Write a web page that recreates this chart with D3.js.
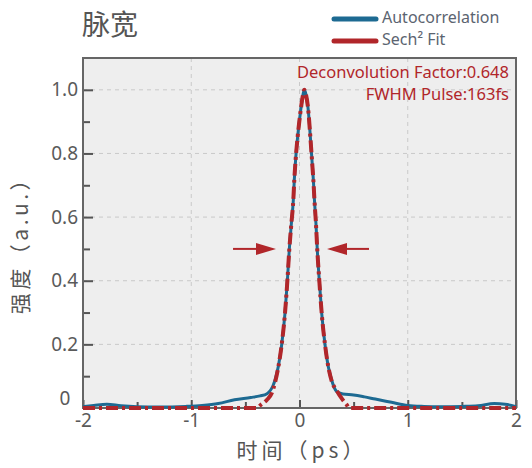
<!DOCTYPE html>
<html><head><meta charset="utf-8">
<script src="https://cdn.jsdelivr.net/npm/d3@7"></script>
<style>
html,body{margin:0;padding:0;background:#fff;}
svg text{font-family:"Noto Sans","Noto Sans CJK SC",sans-serif;}
</style></head>
<body><svg id="c" width="532" height="468"></svg>
<script>
// ---- data ----
const autoT = [-2.0,-1.9,-1.78,-1.65,-1.5,-1.3,-1.05,-0.9,-0.75,-0.6,-0.45,-0.365,-0.3,-0.27,-0.245,-0.226,-0.196,-0.165,-0.134,-0.112,-0.094,-0.075,-0.057,-0.048,-0.036,-0.017,0.011,0.03,0.044,0.06,0.081,0.1,0.115,0.128,0.138,0.152,0.164,0.183,0.205,0.236,0.266,0.297,0.32,0.343,0.4,0.5,0.6,0.7,0.85,1.0,1.15,1.3,1.5,1.65,1.8,1.9,2.0];
const autoV = [0.004,0.008,0.012,0.007,0.004,0.003,0.005,0.008,0.014,0.026,0.033,0.038,0.045,0.055,0.07,0.088,0.13,0.198,0.298,0.4,0.499,0.58,0.654,0.717,0.78,0.853,0.936,0.98,1.0,0.985,0.936,0.853,0.78,0.717,0.654,0.58,0.499,0.4,0.298,0.198,0.13,0.088,0.065,0.052,0.044,0.041,0.035,0.028,0.018,0.008,0.005,0.004,0.005,0.007,0.014,0.012,0.004];
const fitT = [-2.0,-1.0,-0.40,-0.35,-0.30,-0.257,-0.226,-0.196,-0.165,-0.134,-0.112,-0.094,-0.075,-0.057,-0.048,-0.036,-0.017,0.011,0.03,0.044,0.06,0.081,0.1,0.115,0.128,0.138,0.152,0.164,0.183,0.205,0.236,0.266,0.297,0.343,0.39,0.436,0.46,1.0,2.0];
const fitV = [0,0,0,0.012,0.026,0.046,0.08,0.128,0.198,0.298,0.4,0.499,0.58,0.654,0.717,0.78,0.853,0.936,0.98,1.0,0.985,0.936,0.853,0.78,0.717,0.654,0.58,0.499,0.4,0.298,0.198,0.13,0.085,0.055,0.03,0.01,0,0,0];
const xTicks = [-2,-1,0,1,2];
const xTickLabels = ["-2","-1","0","1","2"];
const xMinor = [-1.5,-0.5,0.5,1.5];
const yTicks = [0.2,0.4,0.6,0.8,1.0];
const yTickLabels = ["0.2","0.4","0.6","0.8","1.0"];
const yMinor = [0.1,0.3,0.5,0.7,0.9];
const seriesNames = ["Autocorrelation","Sech² Fit"];
const annotations = ["Deconvolution Factor:0.648","FWHM Pulse:163fs"];
const arrowLeft = [-0.614,-0.217];   // tail, tip (ps)
const arrowRight = [0.642,0.254];
const arrowLevel = 0.5;

// ---- layout ----
const svg = d3.select("#c");
const L=83, T=58, R=516, B=408;
const x = d3.scaleLinear().domain([-2,2]).range([L,R]);
const y = d3.scaleLinear().domain([0,1.1]).range([B,T]);
const blue="#1d6a92", red="#b1262a", grey="#5a5a5a";

svg.append("rect").attr("x",L).attr("y",T).attr("width",R-L).attr("height",B-T).attr("fill","#eeeeee");

// grid
const g = svg.append("g");
g.selectAll(".hg").data(yTicks).join("line")
 .attr("x1",L).attr("x2",R).attr("y1",d=>y(d)).attr("y2",d=>y(d))
 .attr("stroke","#c9c9c9").attr("stroke-width",1).attr("stroke-dasharray","4,4");
g.selectAll(".vg").data([-1,0,1]).join("line")
 .attr("y1",T).attr("y2",B).attr("x1",d=>x(d)).attr("x2",d=>x(d))
 .attr("stroke","#c9c9c9").attr("stroke-width",1).attr("stroke-dasharray","4,4");

// axes via d3 axis (ticks inward)
const yAxis = d3.axisLeft(y).tickValues(yTicks).tickFormat((d,i)=>yTickLabels[i]).tickSize(-10).tickPadding(5);
const ya = svg.append("g").attr("transform",`translate(${L},0)`).call(yAxis);
const yAxisMinor = d3.axisLeft(y).tickValues(yMinor).tickFormat("").tickSize(-7);
const ya2 = svg.append("g").attr("transform",`translate(${L},0)`).call(yAxisMinor);
const xAxis = d3.axisBottom(x).tickValues(xTicks).tickFormat((d,i)=>xTickLabels[i]).tickSize(-8).tickPadding(5);
const xa = svg.append("g").attr("transform",`translate(0,${B})`).call(xAxis);
const xAxisMinor = d3.axisBottom(x).tickValues(xMinor).tickFormat("").tickSize(-6);
const xa2 = svg.append("g").attr("transform",`translate(0,${B})`).call(xAxisMinor);
[ya,ya2,xa,xa2].forEach(a=>{
  a.select(".domain").remove();
  a.selectAll(".tick line").attr("stroke","#555").attr("stroke-width",2);
  a.selectAll(".tick text").attr("fill",grey).style("font-size","19px").style("font-family","'Noto Sans',sans-serif");
});
// "0" label on y
svg.append("text").attr("x",65).attr("y",y(0)-8).attr("text-anchor","middle")
 .attr("dominant-baseline","middle").attr("fill",grey).style("font-size","19px").text("0");

// frame
svg.append("rect").attr("x",L).attr("y",T).attr("width",R-L).attr("height",B-T)
 .attr("fill","none").attr("stroke","#666").attr("stroke-width",2);

// curves
const line = d3.line().x(d=>x(d[0])).y(d=>y(d[1])).curve(d3.curveMonotoneX);
const autoData = autoT.map((t,i)=>[t,autoV[i]]);
const fitData = fitT.map((t,i)=>[t,fitV[i]]);
svg.append("path").attr("d",line(autoData)).attr("fill","none").attr("stroke",blue).attr("stroke-width",3);
svg.append("path").attr("d",line(fitData)).attr("fill","none").attr("stroke",red).attr("stroke-width",4)
 .attr("stroke-dasharray","12,4,3,4");

// arrows
function arrow(a){
  const tail=x(a[0]), tip=x(a[1]), yy=y(arrowLevel);
  const dir = tip>tail?1:-1;
  const base = tip - dir*20;
  svg.append("line").attr("x1",tail).attr("x2",base).attr("y1",yy).attr("y2",yy).attr("stroke",red).attr("stroke-width",2);
  svg.append("path").attr("d",`M${tip},${yy} L${base},${yy-6} L${base},${yy+6} Z`).attr("fill",red);
}
arrow(arrowLeft); arrow(arrowRight);

// annotations
annotations.forEach((s,i)=>{
  svg.append("text").attr("x",509).attr("y",74+i*21.5).attr("text-anchor","end")
   .attr("dominant-baseline","middle").attr("fill",red).style("font-size","16.5px").text(s);
});

// legend
const lg=[blue,red];
seriesNames.forEach((s,i)=>{
  const yy=19+i*22;
  svg.append("line").attr("x1",334).attr("x2",376).attr("y1",yy).attr("y2",yy)
   .attr("stroke",lg[i]).attr("stroke-width",5).attr("stroke-linecap","round");
  svg.append("text").attr("x",382).attr("y",yy).attr("dominant-baseline","middle")
   .attr("fill","#5b6470").style("font-size","16px").text(s);
});

// title & axis labels
svg.append("text").attr("x",82).attr("y",27).attr("dominant-baseline","middle").attr("fill","#555")
 .style("font-family","'Noto Sans CJK SC',sans-serif").style("font-size","28px").text("脉宽");
svg.append("text").attr("x",302).attr("y",452).attr("text-anchor","middle").attr("dominant-baseline","middle")
 .attr("fill","#555").style("font-family","'Noto Sans CJK SC',sans-serif").style("font-size","21px")
 .style("letter-spacing","4px").text("时间（ps）");
svg.append("text").attr("transform","translate(22,240) rotate(-90)").attr("text-anchor","middle").attr("dominant-baseline","middle")
 .attr("fill","#555").style("font-family","'Noto Sans CJK SC',sans-serif").style("font-size","21px")
 .style("letter-spacing","3.5px").text("强度（a.u.）");
</script></body></html>
